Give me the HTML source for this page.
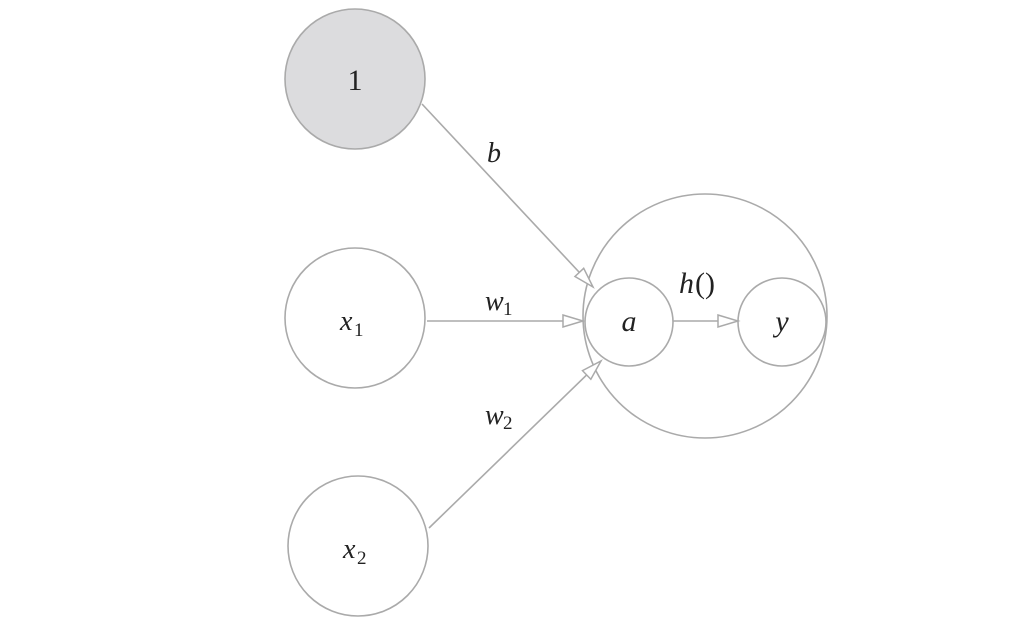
<!DOCTYPE html>
<html><head><meta charset="utf-8"><style>
html,body{margin:0;padding:0;background:#fff;width:1024px;height:632px;overflow:hidden}
text{font-family:"Liberation Serif",serif;fill:#222}
</style></head><body>
<svg width="1024" height="632" viewBox="0 0 1024 632" xmlns="http://www.w3.org/2000/svg">
<defs>
<marker id="ar" markerWidth="24" markerHeight="16" refX="21" refY="7" orient="auto" markerUnits="userSpaceOnUse">
<path d="M1,1 L21,7 L1,13 Z" fill="#fff" stroke="#aaa" stroke-width="1.5"/>
</marker>
</defs>
<g stroke="#aaa" stroke-width="1.6" fill="#fff">
<circle cx="355" cy="79" r="70" fill="#dcdcde"/>
<circle cx="355" cy="318" r="70"/>
<circle cx="358" cy="546" r="70"/>
<circle cx="705" cy="316" r="122"/>
<circle cx="629" cy="322" r="44"/>
<circle cx="782" cy="322" r="44"/>
</g>
<g stroke="#aaa" stroke-width="1.6" fill="none">
<line x1="422" y1="104" x2="593" y2="287" marker-end="url(#ar)"/>
<line x1="427" y1="321" x2="583" y2="321" marker-end="url(#ar)"/>
<line x1="429" y1="528" x2="601" y2="361" marker-end="url(#ar)"/>
<line x1="673" y1="321" x2="738" y2="321" marker-end="url(#ar)"/>
</g>
<text x="355" y="90" font-size="30" text-anchor="middle">1</text>
<text x="494" y="162" font-size="28" font-style="italic" text-anchor="middle">b</text>
<text x="340" y="330" font-size="28" font-style="italic">x</text><text x="354" y="336" font-size="19">1</text>
<text x="343" y="558" font-size="28" font-style="italic">x</text><text x="357" y="564" font-size="19">2</text>
<text x="485" y="310" font-size="28" font-style="italic">w</text><text x="503" y="315" font-size="19">1</text>
<text x="485" y="424" font-size="28" font-style="italic">w</text><text x="503" y="429" font-size="19">2</text>
<text x="629" y="331" font-size="30" font-style="italic" text-anchor="middle">a</text>
<text x="782" y="331" font-size="30" font-style="italic" text-anchor="middle">y</text>
<text x="679" y="293" font-size="30" font-style="italic">h</text><text x="695" y="293" font-size="30">()</text>
</svg>
</body></html>
